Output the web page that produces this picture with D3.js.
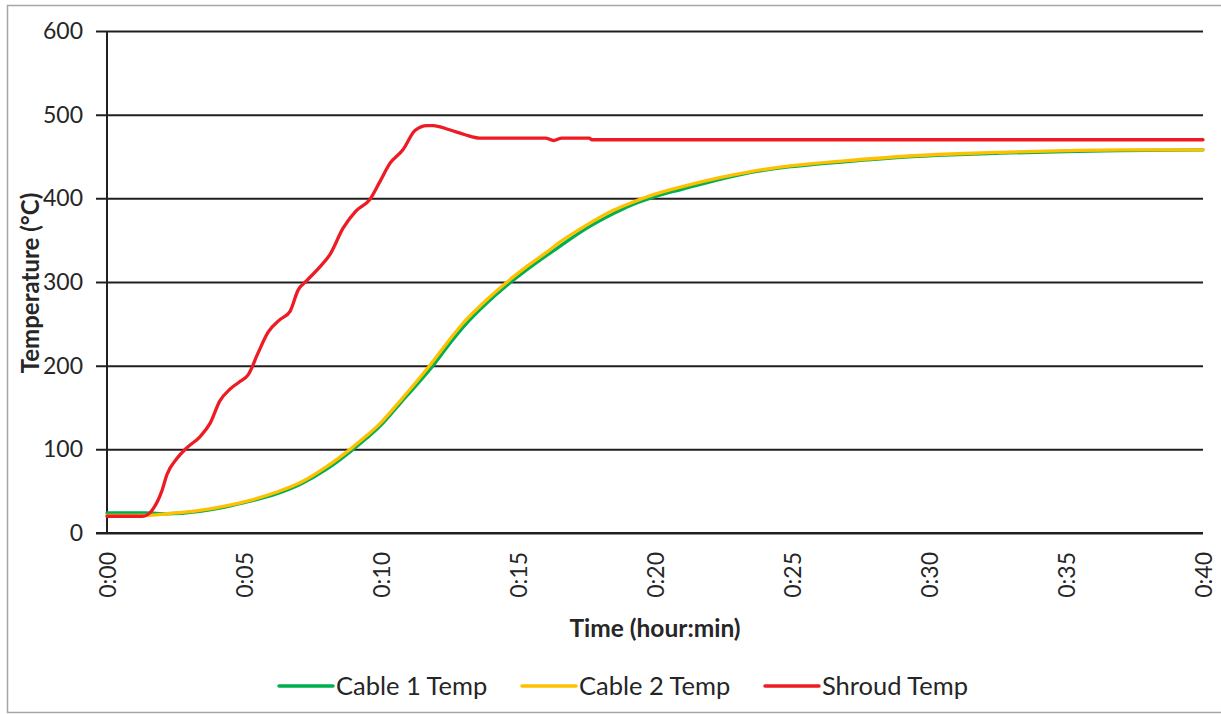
<!DOCTYPE html>
<html>
<head>
<meta charset="utf-8">
<script src="https://cdn.jsdelivr.net/npm/d3@7/dist/d3.min.js"></script>
<style>
  html, body { margin: 0; padding: 0; background: #fff; }
  svg { display: block; }
  text { font-family: Lato, "Open Sans", sans-serif; fill: #262626; }
</style>
</head>
<body>
<svg id="chart" width="1221" height="714"></svg>
<script>
// Elapsed time in minutes, temperatures in °C
const shroudTime = [0, 1.3, 1.64, 2.0, 2.19, 2.55, 2.92, 3.39, 3.76, 4.12, 4.49, 4.85, 5.15, 5.51, 5.88,
  6.31, 6.68, 6.97, 7.30, 7.77, 8.14, 8.61, 9.09, 9.60, 9.96, 10.33, 10.80, 11.24, 11.68, 11.9,
  12.5, 13.07, 13.6, 16.0, 16.3, 16.6, 17.6, 17.7, 40];
const shroudTemp = [20, 20, 27, 50, 70, 89, 102, 115, 131, 158, 172, 181, 189, 215, 240,
  255, 265, 290, 302, 318, 333, 364, 385, 399, 420, 442, 458, 481, 487, 487,
  482, 476, 472, 472, 469, 472, 472, 470, 470];

const cableTime = [0, 1.4, 2.19, 3.39, 4.3, 5.22, 6.2, 7.04, 8.0, 8.87, 9.5, 10.0, 10.7, 11.3, 11.8,
  12.5, 13.0, 13.87, 14.6, 15.3, 16.06, 16.5, 17.5, 18.5, 19.0, 20.0, 21.0, 22.4, 23.5, 25, 27, 29,
  30.8, 32.6, 35, 37, 40];
const cable1Temp = [24, 24, 23, 26, 31, 38, 47, 58, 76, 97, 114, 129, 155, 177, 196,
  226, 246, 275, 296, 314, 332, 342, 364, 382, 390, 402, 411, 423, 431, 438, 444, 449,
  452, 454, 456, 457, 458];
const cable2Temp = [21, 21, 23, 27, 32, 39, 49, 60, 79, 100, 117, 132, 158, 181, 201,
  231, 251, 279, 300, 318, 336, 347, 368, 386, 393, 405, 414, 425, 432, 439, 445, 450,
  453, 455, 457, 458, 458];

const xTicks = [0, 5, 10, 15, 20, 25, 30, 35, 40];
const yTicks = [0, 100, 200, 300, 400, 500, 600];
const seriesNames = ["Cable 1 Temp", "Cable 2 Temp", "Shroud Temp"];
const seriesColors = ["#00b050", "#ffc000", "#ed1c24"];

const svg = d3.select("#chart");

// outer chart-area frame
svg.append("rect")
  .attr("x", 7.5).attr("y", 5.5)
  .attr("width", 1222).attr("height", 707)
  .attr("fill", "#fff").attr("stroke", "#a6a6a6").attr("stroke-width", 1.5);

const x = d3.scaleLinear().domain([0, 40]).range([107, 1203]);
const y = d3.scaleLinear().domain([0, 600]).range([533, 31]);

const fmtTime = m => "0:" + String(m).padStart(2, "0");

// y axis with full-width gridlines
const yAxis = svg.append("g")
  .attr("transform", `translate(${x(0)},0)`)
  .call(d3.axisLeft(y).tickValues(yTicks).tickSizeInner(-(x(40) - x(0))).tickSizeOuter(0).tickPadding(24));
yAxis.select(".domain").remove();
yAxis.selectAll(".tick line")
  .attr("x1", -11)
  .attr("stroke", "#231f20").attr("stroke-width", 2);
yAxis.selectAll(".tick text")
  .attr("font-size", 23).attr("fill", "#262626")
  .style("font-family", "Lato, sans-serif");

// x axis labels, rotated
const xAxis = svg.append("g")
  .attr("transform", `translate(0,${y(0)})`)
  .call(d3.axisBottom(x).tickValues(xTicks).tickFormat(fmtTime).tickSize(0));
xAxis.select(".domain").remove();
xAxis.selectAll(".tick text")
  .attr("transform", "rotate(-90)")
  .attr("text-anchor", "end")
  .attr("x", -19).attr("y", 0).attr("dy", "0.36em")
  .attr("font-size", 23).attr("fill", "#262626")
  .style("font-family", "Lato, sans-serif");

// axis lines
svg.append("line")
  .attr("x1", x(0)).attr("x2", x(0)).attr("y1", y(600)).attr("y2", y(0))
  .attr("stroke", "#231f20").attr("stroke-width", 2);
svg.append("line")
  .attr("x1", x(0) - 11).attr("x2", x(40)).attr("y1", y(0)).attr("y2", y(0))
  .attr("stroke", "#231f20").attr("stroke-width", 2);

// series lines
const line = d3.line()
  .x(d => x(d[0]))
  .y(d => y(d[1]))
  .curve(d3.curveMonotoneX);

const series = [
  d3.zip(cableTime, cable1Temp),
  d3.zip(cableTime, cable2Temp),
  d3.zip(shroudTime, shroudTemp)
];

svg.append("g").selectAll("path")
  .data(series)
  .join("path")
  .attr("d", line)
  .attr("fill", "none")
  .attr("stroke", (d, i) => seriesColors[i])
  .attr("stroke-width", 3.3)
  .attr("stroke-linejoin", "round")
  .attr("stroke-linecap", "round");

// axis titles
svg.append("text")
  .attr("x", 655).attr("y", 637)
  .attr("text-anchor", "middle")
  .attr("font-size", 24.5).attr("font-weight", "bold")
  .text("Time (hour:min)");

svg.append("text")
  .attr("transform", "translate(39,283) rotate(-90)")
  .attr("text-anchor", "middle")
  .attr("font-size", 24).attr("font-weight", "bold")
  .text("Temperature (°C)");

// legend
const legendX = [279, 522, 765];
const legend = svg.append("g").selectAll("g")
  .data(seriesNames)
  .join("g")
  .attr("transform", (d, i) => `translate(${legendX[i]},686)`);
legend.append("line")
  .attr("x1", 0).attr("x2", 54)
  .attr("stroke", (d, i) => seriesColors[i])
  .attr("stroke-width", 3.5)
  .attr("stroke-linecap", "round");
legend.append("text")
  .attr("x", 57).attr("dy", "0.36em")
  .attr("font-size", 25.5)
  .text(d => d);
</script>
</body>
</html>
